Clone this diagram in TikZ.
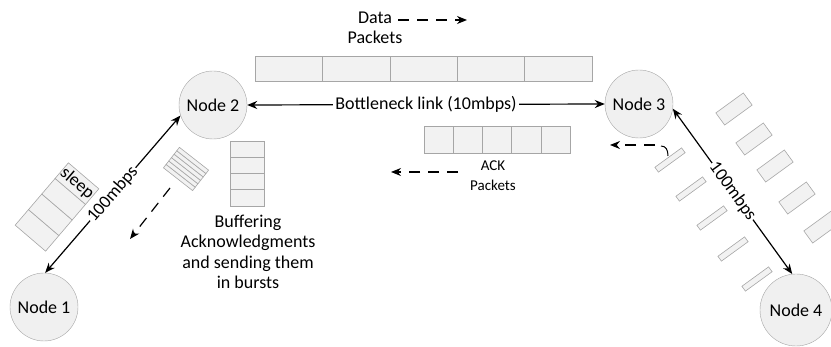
\documentclass[tikz,border=0pt]{standalone}
\usepackage{fontspec}
\setmainfont{Carlito}
\usetikzlibrary{arrows.meta, positioning}

\begin{document}
\begin{tikzpicture}[x=1pt, y=-1pt,
    >={Stealth[length=10pt, width=8pt]},
    host/.style={circle, draw=gray!70, fill=gray!12, minimum size=68pt, inner sep=0pt, font=\fontsize{18}{21}\selectfont},
    link/.style={line width=1.2pt, <->},
    flow/.style={line width=1.2pt, ->, dash pattern=on 11pt off 8pt},
    cell/.style={draw=gray!70, fill=gray!10, inner sep=0pt, line width=0.6pt},
    lbl/.style={font=\fontsize{18}{20.5}\selectfont, align=center},
    small/.style={font=\fontsize{15}{20}\selectfont, align=center},
]
\useasboundingbox (0,0) rectangle (831,347);

% Hosts
\node[host] (node1) at (44,307) {Node 1};
\node[host] (node2) at (213,105) {Node 2};
\node[host] (node3) at (639,104) {Node 3};
\node[host, minimum size=72pt] (node4) at (796,310) {Node 4};

% --- Links
\draw[link] (node1.88) -- (node2.198)
    node[midway, sloped, fill=white, inner sep=1pt, lbl] {100mbps};
\draw[link] (node2.east) -- (node3.west)
    node[midway, fill=white, inner sep=2pt, lbl] {Bottleneck link (10mbps)};
\draw[link] (node3.-8) -- (node4.96)
    node[midway, sloped, fill=white, inner sep=1pt, lbl] {100mbps};

% --- Data packets on the bottleneck
\node[lbl] (datalbl) at (375,28) {Data\\Packets};
\coordinate (dataA) at (398,20);
\coordinate (dataB) at (467,20);
\draw[flow] (dataA) -- (dataB);
\foreach \i in {0,...,4}
    \node[cell, minimum width=67.4pt, minimum height=25pt] (data\i) at ({288.7+67.4*\i},68.5) {};

% --- ACK packets on the bottleneck
\foreach \i in {0,...,4}
    \node[cell, minimum width=29.2pt, minimum height=27pt] (ack\i) at ({438.6+29.2*\i},139.5) {};
\node[small] (acklbl) at (493,176) {ACK\\Packets};
\coordinate (ackA) at (458,172);
\coordinate (ackB) at (391,172);
\draw[flow] (ackA) -- (ackB);

% --- Sleeping queue near Node 1
\begin{scope}[shift={(57,207)}, rotate=49.5, every node/.append style={transform shape}]
  \foreach \i in {0,...,3}
    \node[cell, minimum width=20.5pt, minimum height=40pt] (slp\i) at ({-30.75+20.5*\i},0) {};
  \node[lbl, rotate=-90] (sleeplbl) at (31,0) {sleep};
\end{scope}

% --- Burst of ACKs leaving Node 2
\begin{scope}[shift={(186,169)}, rotate=52, every node/.append style={transform shape}]
  \foreach \i in {0,...,5}
    \node[cell, minimum width=4.33pt, minimum height=37pt] (burst\i) at ({-10.8+4.33*\i},0) {};
\end{scope}
\coordinate (burstA) at (170,188);
\coordinate (burstB) at (130,239);
\draw[flow] (burstA) -- (burstB);

% Buffer at Node 2
\foreach \i in {0,...,3}
    \node[cell, minimum width=34pt, minimum height=16.25pt] (buf\i) at (247,{149.1+16.25*\i}) {};
\node[lbl] (buflbl) at (248,252) {Buffering\\Acknowledgments\\and sending them\\in bursts};

% --- Packets between Node 3 and Node 4
\foreach \x/\y [count=\k] in {670/160, 691/189, 712/218, 733/249, 757/279}
    \node[cell, minimum width=33pt, minimum height=6pt, rotate=36] (rack\k) at (\x,\y) {};
\foreach \x/\y [count=\k] in {734/109, 754/139, 775/166, 797/198, 822/227}
    \node[cell, minimum width=34pt, minimum height=15pt, rotate=36] (rdata\k) at (\x,\y) {};

% ACK returning into Node 3
\coordinate (retA) at (655,145);
\coordinate (retB) at (610,145);
\coordinate (hookA) at (661,146);
\coordinate (hookB) at (668,156);
\draw[flow] (retA) -- (retB);
\draw[line width=1pt] (hookA) .. controls (666,146) and (668,150) .. (hookB);

\end{tikzpicture}
\end{document}
